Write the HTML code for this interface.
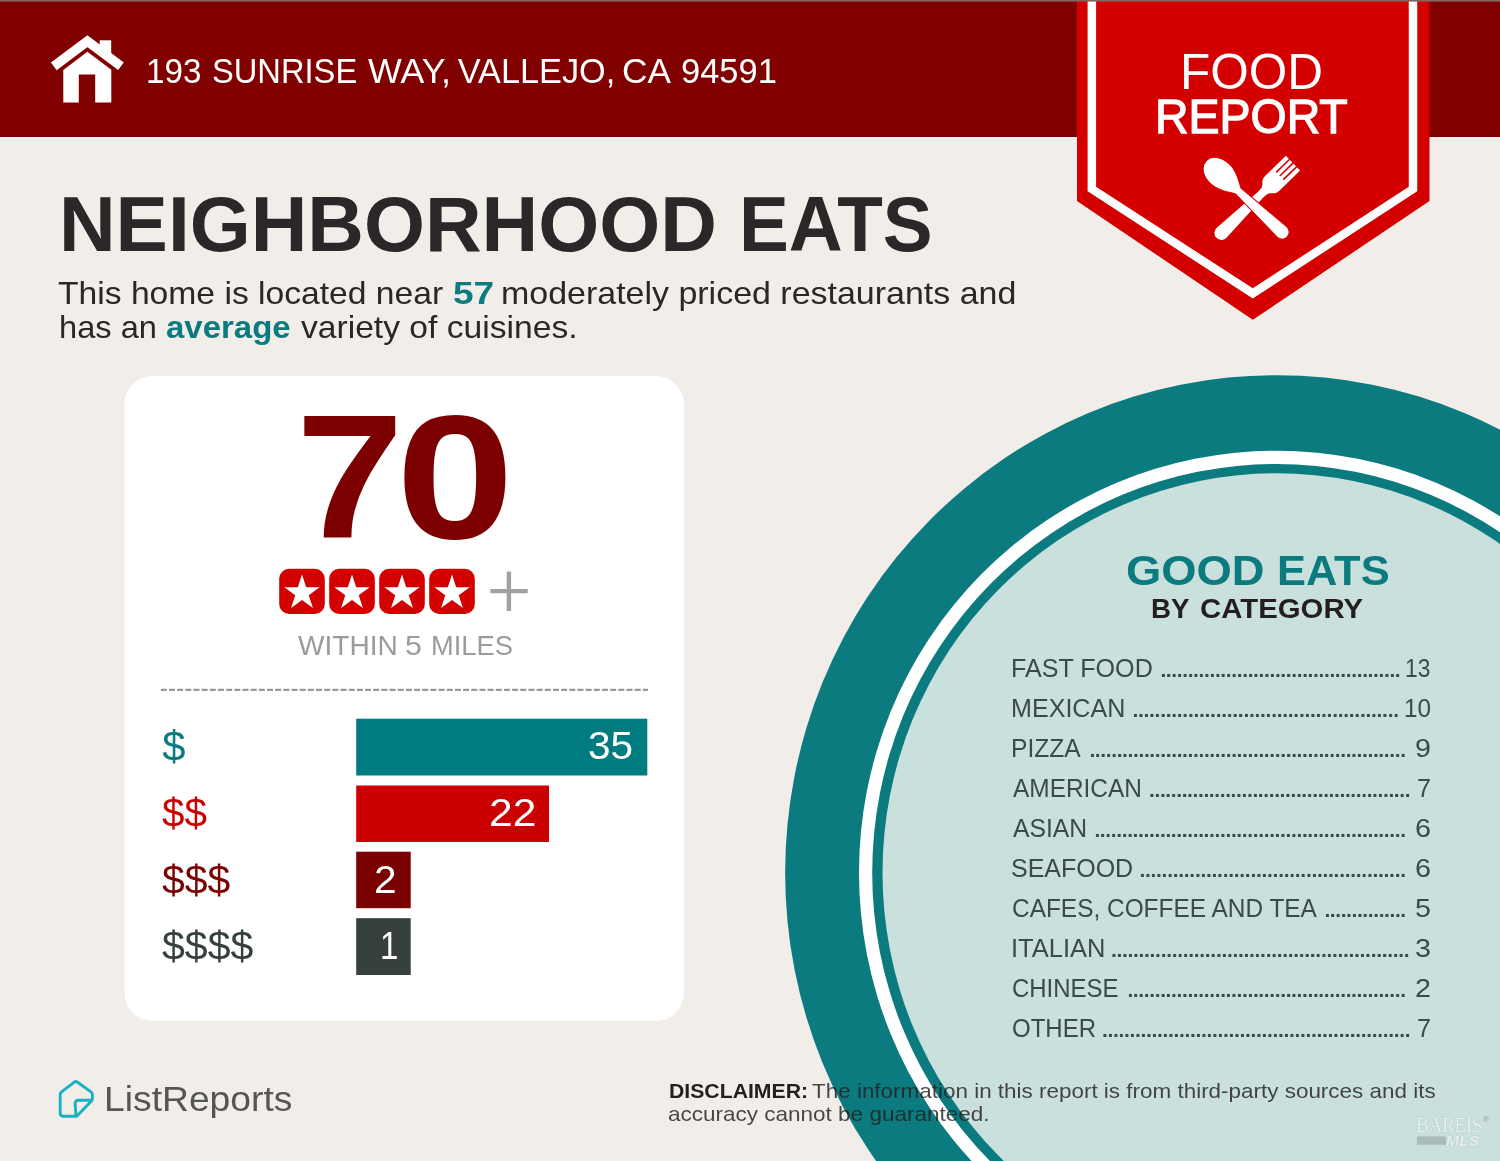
<!DOCTYPE html>
<html lang="en"><head><meta charset="utf-8"><title>Food Report - Neighborhood Eats</title>
<style>
html,body{margin:0;padding:0}
body{width:1500px;height:1161px;position:relative;overflow:hidden;background:#f1ede9;font-family:"Liberation Sans",sans-serif}
.hdr{position:absolute;left:0;top:0;width:1500px;height:137px;background:#800000}
.topline{position:absolute;left:0;top:0;width:1500px;height:2px;background:linear-gradient(#85645f 0,#85645f 55%,rgba(133,100,95,.15) 100%)}
.shapes{position:absolute;left:0;top:0}
.w{margin:0;padding:0;border:0;font:inherit;display:block}
.t{position:absolute;white-space:nowrap;line-height:1;font-weight:400;font-style:normal}
.t b{font-weight:700}
.dots{position:absolute;overflow:hidden;white-space:nowrap;line-height:1;font-weight:700;color:#3b4a4a}
</style></head>
<body>
<div class="hdr"></div>
<svg class="shapes" width="1500" height="1161" viewBox="0 0 1500 1161">
<ellipse cx="1276.4" cy="872.7" rx="491.25" ry="497.5" fill="#0b7b80"/>
<ellipse cx="1276.4" cy="872.7" rx="417.4" ry="422" fill="#fff"/>
<ellipse cx="1276.4" cy="872.7" rx="404.2" ry="408.7" fill="#0b7b80"/>
<ellipse cx="1276.4" cy="872.7" rx="393.9" ry="399.4" fill="#c9e0dd"/>
<rect x="124.5" y="376" width="559.5" height="645" rx="28" ry="28" fill="#fff"/>
<line x1="160.8" y1="689.9" x2="648" y2="689.9" stroke="#9a9a9a" stroke-width="2.4" stroke-dasharray="6 2.17"/>
<rect x="356.2" y="718.7" width="291.1" height="56.8" fill="#007b80"/>
<rect x="356.2" y="785.5" width="192.8" height="56.5" fill="#cc0000"/>
<rect x="356.2" y="851.7" width="54.5" height="56.5" fill="#7b0000"/>
<rect x="356.2" y="918.2" width="54.5" height="56.8" fill="#35403f"/>
<rect x="279.2" y="568.8" width="45.6" height="45.2" rx="10" ry="10" fill="#d40000"/>
<polygon points="302.00,574.40 306.18,587.25 319.69,587.25 308.76,595.20 312.93,608.05 302.00,600.11 291.07,608.05 295.24,595.20 284.31,587.25 297.82,587.25" fill="#fff"/>
<rect x="329.2" y="568.8" width="45.6" height="45.2" rx="10" ry="10" fill="#d40000"/>
<polygon points="352.00,574.40 356.18,587.25 369.69,587.25 358.76,595.20 362.93,608.05 352.00,600.11 341.07,608.05 345.24,595.20 334.31,587.25 347.82,587.25" fill="#fff"/>
<rect x="379.2" y="568.8" width="45.6" height="45.2" rx="10" ry="10" fill="#d40000"/>
<polygon points="402.00,574.40 406.18,587.25 419.69,587.25 408.76,595.20 412.93,608.05 402.00,600.11 391.07,608.05 395.24,595.20 384.31,587.25 397.82,587.25" fill="#fff"/>
<rect x="429.2" y="568.8" width="45.6" height="45.2" rx="10" ry="10" fill="#d40000"/>
<polygon points="452.00,574.40 456.18,587.25 469.69,587.25 458.76,595.20 462.93,608.05 452.00,600.11 441.07,608.05 445.24,595.20 434.31,587.25 447.82,587.25" fill="#fff"/>
<path d="M490.4 591.1H527.7M508.9 571.5V611" stroke="#a1a1a1" stroke-width="4.4" fill="none"/>
<polygon points="1077,0 1429.5,0 1429.5,201 1252.8,319.8 1077,201" fill="#d40000"/>
<path d="M1091.85 -5V189L1252.8 293.4L1413 189V-5" fill="none" stroke="#fff" stroke-width="8.5" stroke-linejoin="miter"/>
<g transform="translate(1293 163.1) rotate(135.72)"><path d="M0 -10.2 L29 -10.2 C35 -10.2 35.5 -6.4 38.5 -4.9 C40.5 -4 42 -3.9 45 -3.9 L100 -7 A7 7 0 0 1 100 7 L45 3.9 C42 3.9 40.5 4 38.5 4.9 C35.5 6.4 35 10.2 29 10.2 L0 10.2 Z" fill="#fff"/><path d="M-1 -5.1H18.5M-1 0H18.5M-1 5.1H18.5" stroke="#d40000" stroke-width="1.6"/></g>
<g transform="translate(1206.2 160.9) rotate(43.16)"><path d="M0 0 C0 -8 8 -13.6 19 -13.6 C30 -13.6 37 -7.5 44 -4 L104 -7.1 A7.1 7.1 0 0 1 104 7.1 L44 4 C37 7.5 30 13.6 19 13.6 C8 13.6 0 8 0 0 Z" fill="#fff" stroke="#d40000" stroke-width="1"/></g>
<g fill="#fff"><path d="M63.3 102.5V69.9L87.4 51.7L111.3 69.7V102.5H95.2V74.6H78.8V102.5Z"/><rect x="99.7" y="40.3" width="11.5" height="15"/><path d="M53.8 66.35L87.4 41.1L121 66.3" fill="none" stroke="#fff" stroke-width="9.5" stroke-linejoin="miter"/></g>
<g fill="none" stroke="#1cb0c4" stroke-width="2.9" stroke-linejoin="round" stroke-linecap="round"><path d="M76.5 1116.2H63.5Q60.2 1116.2 60.2 1112.9V1094.5Q60.2 1092.9 61.5 1091.9L74 1082.3Q75.8 1080.9 77.6 1082.3L91 1091.9Q92.4 1092.9 92.4 1094.6V1098.5Q92.4 1099.9 91.4 1100.9L77.5 1115.6Q76.9 1116.2 76.5 1116.2Z"/><path d="M76 1115.5L75.1 1104Q75 1100.3 78.6 1100.3H91.5"/></g>
<rect x="1417" y="1136.4" width="29" height="8.4" fill="#a9bcbb"/>
</svg>
<div class="topline"></div>
<header class="w"><span class="t" style="left:146.2px;top:54px;font-size:34.3px;transform:scaleX(0.9679);transform-origin:0 0;color:#fff;">193</span>
<span class="t" style="left:211.7px;top:54px;font-size:34.3px;transform:scaleX(0.9523);transform-origin:0 0;color:#fff;">SUNRISE</span>
<span class="t" style="left:367.7px;top:54px;font-size:34.3px;transform:scaleX(1.0434);transform-origin:0 0;color:#fff;">WAY,</span>
<span class="t" style="left:457.7px;top:54px;font-size:34.3px;transform:scaleX(1.0);transform-origin:0 0;color:#fff;">VALLEJO,</span>
<span class="t" style="left:621.8px;top:54px;font-size:34.3px;transform:scaleX(1.0267);transform-origin:0 0;color:#fff;">CA</span>
<span class="t" style="left:681.2px;top:54px;font-size:34.3px;transform:scaleX(1.0043);transform-origin:0 0;color:#fff;">94591</span>
</header>
<div class="w badge"><span class="t" style="left:1180.3px;top:48px;font-size:49.6px;transform:scaleX(0.9993);transform-origin:0 0;color:#fff;">FOOD</span>
<span class="t" style="left:1155.4px;top:92px;font-size:48.4px;transform:scaleX(0.9599);transform-origin:0 0;color:#fff;-webkit-text-stroke:1.3px #fff;">REPORT</span>
</div>
<main class="w">
<h1 class="w"><span class="t" style="left:58.9px;top:186px;font-size:77.0px;font-weight:700;transform:scaleX(1.0183);transform-origin:0 0;color:#2b2627;">NEIGHBORHOOD</span>
<span class="t" style="left:738.5px;top:186px;font-size:77.0px;font-weight:700;transform:scaleX(0.9693);transform-origin:0 0;color:#2b2627;">EATS</span>
</h1>
<p class="w"><span class="t" style="left:58.3px;top:278px;font-size:31.2px;transform:scaleX(1.0787);transform-origin:0 0;color:#2b2627;">This home is located near</span>
<span class="t" style="left:453.3px;top:278px;font-size:31.2px;font-weight:700;transform:scaleX(1.1875);transform-origin:0 0;color:#0b7b80;">57</span>
<span class="t" style="left:501.3px;top:278px;font-size:31.2px;transform:scaleX(1.0889);transform-origin:0 0;color:#2b2627;">moderately priced restaurants and</span>

<span class="t" style="left:58.9px;top:312px;font-size:31.2px;transform:scaleX(1.0456);transform-origin:0 0;color:#2b2627;">has an</span>
<span class="t" style="left:165.7px;top:312px;font-size:31.2px;font-weight:700;transform:scaleX(1.0569);transform-origin:0 0;color:#0b7b80;">average</span>
<span class="t" style="left:300.7px;top:312px;font-size:31.2px;transform:scaleX(1.078);transform-origin:0 0;color:#2b2627;">variety of cuisines.</span>
</p>
<section class="w score">
<span class="t" style="left:295.8px;top:390px;font-size:175.5px;font-weight:700;transform:scaleX(1.1037);transform-origin:0 0;color:#7d0000;">7</span><span class="t" style="left:395.5px;top:390px;font-size:175.5px;font-weight:700;transform:scaleX(1.2096);transform-origin:0 0;color:#7d0000;">0</span>

<span class="t" style="left:297.6px;top:631px;font-size:28.2px;transform:scaleX(0.9959);transform-origin:0 0;color:#9b9b9b;">WITHIN</span>
<span class="t" style="left:405.2px;top:631px;font-size:28.2px;transform:scaleX(1.0769);transform-origin:0 0;color:#9b9b9b;">5</span>
<span class="t" style="left:430.8px;top:631px;font-size:28.2px;transform:scaleX(0.9679);transform-origin:0 0;color:#9b9b9b;">MILES</span>

<div class="w row"><span class="t" style="left:162.2px;top:726px;font-size:41.73px;color:#0b7b80;">$</span>
<span class="t" style="left:588.2px;top:726px;font-size:39px;transform:scaleX(1.04);transform-origin:0 0;color:#fff;">35</span>
</div>
<div class="w row"><span class="t" style="left:162.2px;top:793px;font-size:41.36px;transform:scaleX(0.9773);transform-origin:0 0;color:#cc0000;">$$</span>
<span class="t" style="left:489.2px;top:793px;font-size:39px;transform:scaleX(1.0897);transform-origin:0 0;color:#fff;">22</span>
</div>
<div class="w row"><span class="t" style="left:162.2px;top:860px;font-size:41.36px;transform:scaleX(0.9896);transform-origin:0 0;color:#7b0000;">$$$</span>
<span class="t" style="left:374.2px;top:860px;font-size:39px;transform:scaleX(1.0444);transform-origin:0 0;color:#fff;">2</span>
</div>
<div class="w row"><span class="t" style="left:162.2px;top:926px;font-size:41.36px;transform:scaleX(0.9922);transform-origin:0 0;color:#35403f;">$$$$</span>
<span class="t" style="left:380.2px;top:926px;font-size:39px;transform:scaleX(0.85);transform-origin:0 0;color:#fff;">1</span>
</div>
</section>
<section class="w cats">
<h2 class="w"><span class="t" style="left:1125.5px;top:550px;font-size:42.5px;font-weight:700;transform:scaleX(1.0675);transform-origin:0 0;color:#0b7b80;">GOOD</span>
<span class="t" style="left:1277px;top:550px;font-size:42.5px;font-weight:700;transform:scaleX(1.0219);transform-origin:0 0;color:#0b7b80;">EATS</span>
<span class="t" style="left:1151.1px;top:596px;font-size:27px;font-weight:700;transform:scaleX(1.0257);transform-origin:0 0;color:#231f20;">BY</span>
<span class="t" style="left:1200.1px;top:596px;font-size:27px;font-weight:700;transform:scaleX(1.0872);transform-origin:0 0;color:#231f20;">CATEGORY</span>
</h2>
<div class="w row"><span class="t" style="left:1011px;top:656px;font-size:25.2px;transform:scaleX(0.9964);transform-origin:0 0;color:#3b4a4a;">FAST FOOD</span>
<span class="dots" style="left:1160.4px;top:659.12px;width:241.6px;font-size:21px;letter-spacing:-0.382px">............................................</span>
<span class="t" style="left:1405.1px;top:656px;font-size:25.2px;transform:scaleX(0.904);transform-origin:0 0;color:#3b4a4a;">13</span>
</div>
<div class="w row"><span class="t" style="left:1011px;top:696px;font-size:25.2px;transform:scaleX(0.9964);transform-origin:0 0;color:#3b4a4a;">MEXICAN</span>
<span class="dots" style="left:1132.4px;top:699.10px;width:268.0px;font-size:21px;letter-spacing:-0.285px">................................................</span>
<span class="t" style="left:1403.6px;top:696px;font-size:25.2px;transform:scaleX(0.964);transform-origin:0 0;color:#3b4a4a;">10</span>
</div>
<div class="w row"><span class="t" style="left:1011px;top:736px;font-size:25.2px;transform:scaleX(0.9768);transform-origin:0 0;color:#3b4a4a;">PIZZA</span>
<span class="dots" style="left:1089.4px;top:739.08px;width:318.0px;font-size:21px;letter-spacing:-0.382px">..........................................................</span>
<span class="t" style="left:1415px;top:736px;font-size:25.2px;transform:scaleX(1.14);transform-origin:0 0;color:#3b4a4a;">9</span>
</div>
<div class="w row"><span class="t" style="left:1013px;top:776px;font-size:25.2px;transform:scaleX(0.9695);transform-origin:0 0;color:#3b4a4a;">AMERICAN</span>
<span class="dots" style="left:1149.0px;top:779.06px;width:262.9px;font-size:21px;letter-spacing:-0.393px">................................................</span>
<span class="t" style="left:1417px;top:776px;font-size:25.2px;transform:scaleX(1.0);transform-origin:0 0;color:#3b4a4a;">7</span>
</div>
<div class="w row"><span class="t" style="left:1013px;top:816px;font-size:25.2px;transform:scaleX(0.9797);transform-origin:0 0;color:#3b4a4a;">ASIAN</span>
<span class="dots" style="left:1094.4px;top:819.04px;width:313.0px;font-size:21px;letter-spacing:-0.374px">.........................................................</span>
<span class="t" style="left:1415px;top:816px;font-size:25.2px;transform:scaleX(1.14);transform-origin:0 0;color:#3b4a4a;">6</span>
</div>
<div class="w row"><span class="t" style="left:1011px;top:856px;font-size:25.2px;transform:scaleX(0.9917);transform-origin:0 0;color:#3b4a4a;">SEAFOOD</span>
<span class="dots" style="left:1139.4px;top:859.02px;width:268.0px;font-size:21px;letter-spacing:-0.285px">................................................</span>
<span class="t" style="left:1415px;top:856px;font-size:25.2px;transform:scaleX(1.14);transform-origin:0 0;color:#3b4a4a;">6</span>
</div>
<div class="w row"><span class="t" style="left:1012px;top:896px;font-size:25.2px;transform:scaleX(0.9696);transform-origin:0 0;color:#3b4a4a;">CAFES, COFFEE AND TEA</span>
<span class="dots" style="left:1324.4px;top:899.00px;width:83.0px;font-size:21px;letter-spacing:-0.409px">...............</span>
<span class="t" style="left:1415.4px;top:896px;font-size:25.2px;transform:scaleX(1.14);transform-origin:0 0;color:#3b4a4a;">5</span>
</div>
<div class="w row"><span class="t" style="left:1011px;top:936px;font-size:25.2px;transform:scaleX(1.0112);transform-origin:0 0;color:#3b4a4a;">ITALIAN</span>
<span class="dots" style="left:1110.9px;top:938.98px;width:300.1px;font-size:21px;letter-spacing:-0.308px">......................................................</span>
<span class="t" style="left:1415px;top:936px;font-size:25.2px;transform:scaleX(1.14);transform-origin:0 0;color:#3b4a4a;">3</span>
</div>
<div class="w row"><span class="t" style="left:1012px;top:976px;font-size:25.2px;transform:scaleX(0.9509);transform-origin:0 0;color:#3b4a4a;">CHINESE</span>
<span class="dots" style="left:1127.4px;top:978.96px;width:280.0px;font-size:21px;letter-spacing:-0.378px">...................................................</span>
<span class="t" style="left:1415px;top:976px;font-size:25.2px;transform:scaleX(1.14);transform-origin:0 0;color:#3b4a4a;">2</span>
</div>
<div class="w row"><span class="t" style="left:1012px;top:1016px;font-size:25.2px;transform:scaleX(0.9535);transform-origin:0 0;color:#3b4a4a;">OTHER</span>
<span class="dots" style="left:1101.9px;top:1018.94px;width:310.0px;font-size:21px;letter-spacing:-0.329px">........................................................</span>
<span class="t" style="left:1417px;top:1016px;font-size:25.2px;transform:scaleX(1.0);transform-origin:0 0;color:#3b4a4a;">7</span>
</div>
</section>
</main>
<footer class="w">
<span class="t" style="left:103.7px;top:1082px;font-size:35.6px;transform:scaleX(1.0472);transform-origin:0 0;color:#555;">ListReports</span>

<p class="w"><span class="t" style="left:668.6px;top:1081px;font-size:20.7px;font-weight:700;transform:scaleX(1.0256);transform-origin:0 0;color:#231f20;">DISCLAIMER:</span>
<span class="t" style="left:812.3px;top:1081px;font-size:20.7px;transform:scaleX(1.0848);transform-origin:0 0;color:rgba(35,31,32,.82);">The information in this report is from third-party sources and its</span>
<span class="t" style="left:668.3px;top:1104px;font-size:20.7px;transform:scaleX(1.0877);transform-origin:0 0;color:rgba(35,31,32,.82);">accuracy cannot be guaranteed.</span>
</p>
<span class="t" style="left:1416px;top:1115px;font-family:'Liberation Serif',serif;font-size:21px;color:#e6f0ee;text-shadow:0 0 1px rgba(110,135,132,.55);transform:scaleX(.92);transform-origin:0 0;letter-spacing:-.5px">BAREIS<span style="font-size:9px;font-weight:700;vertical-align:top;color:#a9bcba;margin-left:1px">&#174;</span></span>
<span class="t" style="left:1446px;top:1133px;font-size:15.5px;font-weight:700;font-style:italic;color:#e6f0ee;text-shadow:0 0 1px rgba(110,135,132,.55);letter-spacing:.3px">MLS</span>
</footer>
</body></html>
